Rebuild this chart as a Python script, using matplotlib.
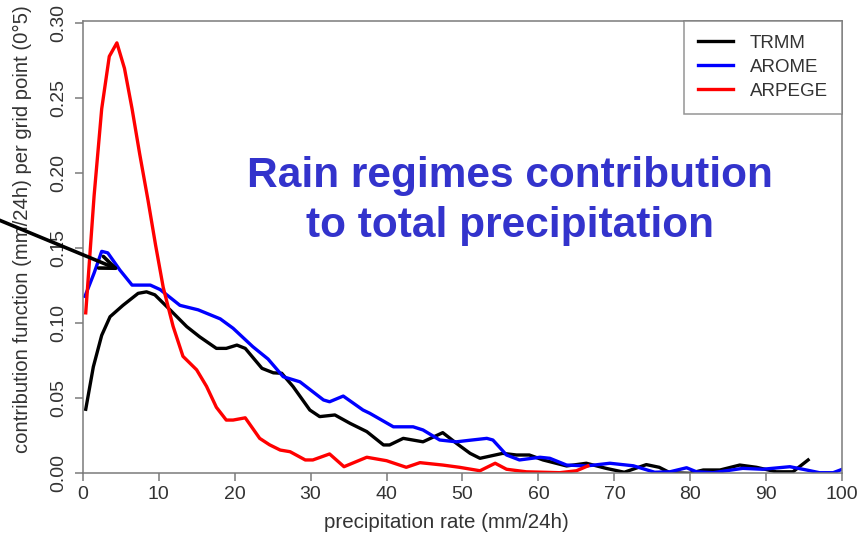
import matplotlib
matplotlib.use("Agg")
import matplotlib.pyplot as plt

plt.rcParams['font.family'] = ['Liberation Sans', 'DejaVu Sans']

# contribution function per grid point, read as (rate, value) pairs
trmm_x = [0.4, 1.4, 2.5, 3.6, 5.3, 7.3, 8.4, 9.5, 11.5, 13.7, 15.4, 17.6, 18.9, 20.3, 21.4,
          23.6, 25.1, 26.2, 27.7, 29.9, 31.2, 33.2, 35.2, 37.4, 39.6, 40.4, 42.2, 44.8, 47.4,
          49.2, 51.0, 52.3, 55.3, 57.1, 58.8, 60.6, 63.7, 66.3, 68.9, 71.3, 74.2, 75.9, 77.3,
          79.9, 81.7, 83.9, 86.5, 88.7, 91.3, 93.5, 95.5]
trmm_y = [0.0427, 0.071, 0.092, 0.1044, 0.112, 0.120, 0.121, 0.119, 0.109, 0.0978, 0.091,
          0.0833, 0.0833, 0.0855, 0.0833, 0.070, 0.067, 0.0667, 0.0578, 0.0422, 0.0378, 0.0389,
          0.0333, 0.0278, 0.0189, 0.0189, 0.0233, 0.021, 0.0271, 0.020, 0.0133, 0.010, 0.0133,
          0.0122, 0.0122, 0.0089, 0.0049, 0.0067, 0.0033, 0.0007, 0.0058, 0.004, 0.0004, 0.0,
          0.0022, 0.0022, 0.0055, 0.004, 0.001, 0.001, 0.0089]

arome_x = [0.3, 1.5, 2.5, 3.3, 4.9, 6.5, 8.9, 10.2, 12.8, 15.2, 18.1, 19.8, 22.4, 24.4, 26.4,
           28.6, 31.7, 32.5, 34.3, 36.9, 37.8, 40.9, 43.5, 44.8, 47.0, 49.2, 50.9, 53.2, 54.0,
           55.8, 57.5, 60.2, 61.5, 63.7, 66.3, 69.4, 72.5, 75.3, 77.3, 79.5, 80.8, 83.0, 86.9,
           89.5, 93.1, 95.3, 97.0, 98.8, 100.0]
arome_y = [0.118, 0.1335, 0.148, 0.147, 0.1355, 0.1255, 0.1255, 0.1225, 0.112, 0.109, 0.103,
           0.0967, 0.0844, 0.0762, 0.0644, 0.061, 0.0489, 0.0477, 0.0515, 0.0422, 0.040, 0.031,
           0.031, 0.0289, 0.0222, 0.021, 0.022, 0.0233, 0.0222, 0.0122, 0.0089, 0.0107, 0.010,
           0.0055, 0.0049, 0.0067, 0.005, 0.0007, 0.001, 0.0037, 0.001, 0.0004, 0.0033, 0.0027,
           0.0044, 0.0022, 0.0004, 0.0004, 0.0027]

arpege_x = [0.4, 1.5, 2.5, 3.5, 4.5, 5.5, 6.5, 7.5, 8.6, 9.6, 10.6, 11.9, 13.2, 15.0, 16.3,
            17.6, 18.9, 19.8, 21.4, 23.3, 24.6, 26.0, 27.3, 29.3, 30.3, 32.5, 34.4, 37.4, 40.0,
            42.6, 44.4, 47.4, 49.6, 52.3, 54.3, 55.8, 58.4, 62.8, 65.0, 66.5]
arpege_y = [0.107, 0.185, 0.243, 0.278, 0.287, 0.270, 0.243, 0.213, 0.182, 0.152, 0.124,
            0.098, 0.078, 0.069, 0.058, 0.044, 0.0355, 0.0355, 0.037, 0.0233, 0.019, 0.0155,
            0.0144, 0.0089, 0.0089, 0.0129, 0.0044, 0.0107, 0.0084, 0.004, 0.0071, 0.0055,
            0.004, 0.0017, 0.0067, 0.0027, 0.001, 0.0004, 0.0017, 0.0049]

fig = plt.figure(figsize=(8.61, 5.39), dpi=100)
ax = fig.add_axes([82.7 / 861, 1 - 473.3 / 539, (842.3 - 82.7) / 861, (473.3 - 20.7) / 539])

ax.plot(trmm_x, trmm_y, color='black', lw=2.4, label='TRMM')
ax.plot(arome_x, arome_y, color='#0000ff', lw=2.4, label='AROME')
ax.plot(arpege_x, arpege_y, color='#ff0000', lw=2.4, label='ARPEGE')

ax.set_xlim(0, 100)
ax.set_ylim(0, 0.3018)
ax.set_xticks(range(0, 101, 10))
ax.set_yticks([0.0, 0.05, 0.10, 0.15, 0.20, 0.25, 0.30])
ax.set_yticklabels(['0.00', '0.05', '0.10', '0.15', '0.20', '0.25', '0.30'],
                   rotation=90, va='center')
for s in ax.spines.values():
    s.set_color('#7a7a7a')
    s.set_linewidth(1.1)
ax.tick_params(direction='out', length=6, width=1.1, color='#7a7a7a',
               labelsize=14, labelcolor='#333333')
ax.tick_params(axis='x', pad=3)
ax.tick_params(axis='y', pad=5)

ax.set_xlabel('precipitation rate (mm/24h)', fontsize=14.8, color='#333333')
ax.xaxis.set_label_coords((446 - 82.7) / (842.3 - 82.7), -(522 - 473.3) / (473.3 - 20.7))
ax.set_ylabel('contribution function (mm/24h) per grid point (0°5)', fontsize=14.6,
              color='#333333')
ax.yaxis.set_label_coords(-(82.7 - 22) / (842.3 - 82.7), (473.3 - 229) / (473.3 - 20.7))
ax.xaxis.label.set_va('center')
ax.yaxis.label.set_va('center')

leg = ax.legend(loc='upper right', borderaxespad=0, fancybox=False, fontsize=13.5,
                handlelength=1.9, handletextpad=0.9, labelspacing=0.37, borderpad=0.75)
leg.get_frame().set_edgecolor('#7a7a7a')
leg.get_frame().set_linewidth(1.1)
for t in leg.get_texts():
    t.set_color('#333333')

fig.text(510 / 861, 1 - 201 / 539, 'Rain regimes contribution\nto total precipitation',
         ha='center', va='center', multialignment='center', fontsize=30.5,
         fontweight='bold', color='#3333cc', linespacing=1.3)

ax.annotate('', xy=(4.9, 0.1355), xycoords='data',
            xytext=(-0.004, 1 - 219 / 539), textcoords='figure fraction',
            arrowprops=dict(arrowstyle='->,head_length=0.75,head_width=0.3',
                            mutation_scale=15, lw=2.6, color='black',
                            shrinkA=0, shrinkB=0))

fig.savefig('out.png', dpi=100)
